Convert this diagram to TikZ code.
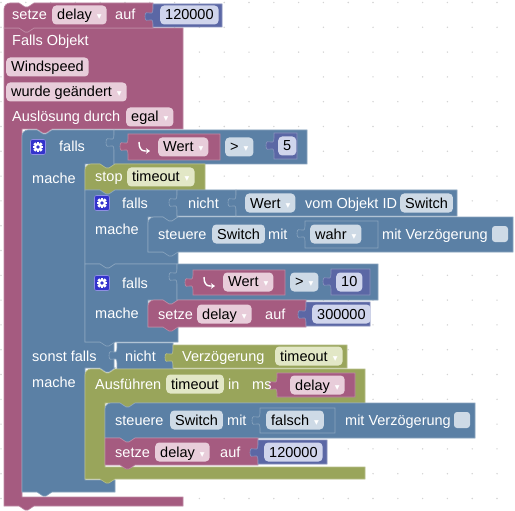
\documentclass[tikz,border=0pt]{standalone}
\usepackage{fontspec}
\setmainfont{Liberation Sans}
\newfontfamily\dvfont{DejaVu Sans}
\usetikzlibrary{arrows.meta}
\definecolor{purp}{RGB}{165,91,128}
\definecolor{purpF}{RGB}{232,205,218}
\definecolor{bl}{RGB}{91,128,165}
\definecolor{blF}{RGB}{206,218,230}
\definecolor{olv}{RGB}{153,165,91}
\definecolor{olvF}{RGB}{226,231,198}
\definecolor{nb}{RGB}{91,103,165}
\definecolor{nbF}{RGB}{208,213,236}
\definecolor{gearb}{RGB}{51,51,204}
\definecolor{dotc}{RGB}{212,212,212}
\newcommand{\dd}{\hspace{5pt}{\dvfont\fontsize{9.5}{9.5}\selectfont\color{white}▾}}
\tikzset{
  lbl/.style={text=white, anchor=base west, inner sep=0pt},
  fld/.style={rounded corners=4pt, fill=#1, text=black, inner xsep=5pt, inner ysep=2.5pt,
    text height=12pt, text depth=2pt, anchor=west},
  blk/.style={fill=#1, draw=#1!72!white, line width=0.6pt}
}
\newcommand{\lbl}[4]{\node[lbl] (#1) at (#2,{#3+5}) {#4};}
\newcommand{\fld}[5]{\node[fld=#2] (#1) at (#3,#4) {#5};}
\newcommand{\chk}[4]{\node[rounded corners=3pt, fill=#2, minimum size=16pt, inner sep=0pt] (#1) at (#3,#4) {};}
\newcommand{\vblk}[5]{\filldraw[blk=#5] (#1,#2) -- (#3,#2) -- (#3,#4) -- (#1,#4) -- (#1,{#2+20}) .. controls (#1,{#2+10}) and ({#1-8},{#2+22}) .. ({#1-8},{#2+12.5}) .. controls ({#1-8},{#2+3}) and (#1,{#2+15}) .. (#1,{#2+5}) -- cycle;}
\newcommand{\sblk}[6]{\filldraw[blk=#5] (#1,{#2+#6}) .. controls (#1,{#2+0.45*#6}) and ({#1+0.45*#6},#2) .. ({#1+#6},#2) -- ({#1+15},#2) -- ({#1+21},{#2+4}) -- ({#1+24},{#2+4}) -- ({#1+30},#2) -- (#3,#2) -- (#3,#4) -- ({#1+30},#4) -- ({#1+24},{#4+4}) -- ({#1+21},{#4+4}) -- ({#1+15},#4) -- (#1,#4) -- cycle;}
\newcommand{\gear}[2]{%
  \filldraw[fill=gearb, draw=gearb!55!white, line width=0.6pt, rounded corners=2pt] ({#1-7.5},{#2-7.5}) rectangle ({#1+7.5},{#2+7.5});
  \fill[white] (#1,#2) circle (3.9);
  \foreach \a in {0,45,90,135} {\fill[white, rotate around={\a:(#1,#2)}] ({#1-1.3},{#2-5.3}) rectangle ({#1+1.3},{#2+5.3});}
  \fill[gearb] (#1,#2) circle (1.8);}
\newcommand{\hook}[2]{\draw[white, line width=1.4pt, -{Stealth[length=4pt,width=5.5pt]}] (#1,{#2-5}) .. controls (#1,{#2+1}) and ({#1+2},{#2+4}) .. ({#1+6},{#2+4}) -- ({#1+11},{#2+4});}
\begin{document}
\begin{tikzpicture}[x=1pt,y=-1pt,font=\fontsize{14.5}{17}\selectfont]
\useasboundingbox (0,0) rectangle (515,511);
\fill[white] (0,0) rectangle (515,511);
\foreach \i in {0,...,20} {\foreach \j in {0,...,20} {\fill[dotc] ({497-24.8*\i},{2.5+24.8*\j}) circle (0.8);}}
% trigger block
\filldraw[blk=purp] (4,28) -- (19,28) -- (25,32) -- (28,32) -- (34,28) -- (183,28) -- (183,129) -- (52,129) -- (46,133) -- (43,133) -- (37,129) -- (22,129) -- (22,497) -- (183,497) -- (183,506) -- (34,506) -- (28,510) -- (25,510) -- (19,506) -- (4,506) -- cycle;
% top setze
\sblk{4}{3}{153}{28}{purp}{6}
\vblk{153}{4}{222}{27}{nb}
% outer falls
\filldraw[blk=bl] (22,136) .. controls (22,132.7) and (24.7,130) .. (28,130) -- (37,130) -- (43,134) -- (46,134) -- (52,130) -- (114,130) -- (114,164) -- (115,164) -- (109,168) -- (106,168) -- (100,164) -- (85,164) -- (85,342) -- (114,342) -- (114,368) -- (115,368) -- (109,372) -- (106,372) -- (100,368) -- (85,368) -- (85,480) -- (115,480) -- (115,492) -- (52,492) -- (46,496) -- (43,496) -- (37,492) -- (22,492) -- cycle;
\vblk{114}{130}{307}{164}{bl}
\vblk{128}{134}{220}{160}{purp}
\vblk{274}{133}{297}{159}{nb}
% stop
\sblk{85}{164}{205}{190}{olv}{6}
% falls 2
\filldraw[blk=bl] (85,190) -- (100,190) -- (106,194) -- (109,194) -- (115,190) -- (177,190) -- (177,217) -- (178,217) -- (172,221) -- (169,221) -- (163,217) -- (148,217) -- (148,252) -- (178,252) -- (178,264) -- (115,264) -- (109,268) -- (106,268) -- (100,264) -- (85,264) -- cycle;
\vblk{177}{190}{236}{216}{bl}
\vblk{236}{190}{457}{216}{bl}
\sblk{148}{217}{513}{252}{bl}{6}
\vblk{305}{221}{378}{248}{bl}
% falls 3
\filldraw[blk=bl] (85,264) -- (100,264) -- (106,268) -- (109,268) -- (115,264) -- (177,264) -- (177,300) -- (178,300) -- (172,304) -- (169,304) -- (163,300) -- (148,300) -- (148,327) -- (178,327) -- (178,342) -- (115,342) -- (109,346) -- (106,346) -- (100,342) -- (85,342) -- cycle;
\vblk{177}{264}{378}{300}{bl}
\vblk{193}{270}{285}{295}{purp}
\vblk{331}{269}{370}{295}{nb}
\sblk{148}{300}{306}{327}{purp}{6}
\vblk{306}{302}{370}{326}{nb}
% sonst falls
\vblk{117}{343}{173}{369}{bl}
\vblk{173}{345}{347}{368}{olv}
% Ausfuehren
\filldraw[blk=olv] (85,375) .. controls (85,371.7) and (87.7,369) .. (91,369) -- (100,369) -- (106,373) -- (109,373) -- (115,369) -- (365,369) -- (365,403) -- (135,403) -- (129,407) -- (126,407) -- (120,403) -- (105,403) -- (105,467) -- (365,467) -- (365,479) -- (115,479) -- (109,483) -- (106,483) -- (100,479) -- (85,479) -- cycle;
\vblk{277}{373}{355}{397}{purp}
\sblk{105}{403}{475}{438}{bl}{6}
\vblk{260}{408}{335}{433}{bl}
\sblk{105}{438}{258}{465}{purp}{0}
\vblk{258}{440}{327}{464}{nb}
% icons
\gear{38}{147}
\gear{102}{203}
\gear{102}{283}
\hook{139}{147}
\hook{204}{282}
% labels
\lbl{a1}{12}{15}{setze}
\fld{f1}{purpF}{52}{15}{delay\dd}
\lbl{a2}{115}{15}{auf}
\fld{f2}{nbF}{160}{15}{120000}
\lbl{a3}{12}{41}{Falls Objekt}
\fld{f3}{purpF}{6}{67}{Windspeed}
\fld{f4}{purpF}{6}{92}{wurde geändert\dd}
\lbl{a4}{12}{117}{Auslösung durch}
\fld{f5}{purpF}{126}{117}{egal\dd}
\lbl{a5}{59}{147}{falls}
\fld{f6}{purpF}{158}{147}{Wert\dd}
\fld{f7}{blF}{225}{147}{>\dd}
\fld{f8}{nbF}{278}{146}{5}
\lbl{a6}{32}{178}{mache}
\lbl{a7}{95}{177}{stop}
\fld{f9}{olvF}{127}{177}{timeout\dd}
\lbl{a8}{122}{203}{falls}
\lbl{a9}{188}{203}{nicht}
\fld{f10}{blF}{245}{203}{Wert\dd}
\lbl{a10}{305}{203}{vom Objekt ID}
\fld{f11}{blF}{400}{203}{Switch}
\lbl{a11}{95}{229}{mache}
\lbl{a12}{158}{234}{steuere}
\fld{f12}{blF}{212}{234}{Switch}
\lbl{a13}{268}{234}{mit}
\fld{f13}{blF}{310}{234}{wahr\dd}
\lbl{a14}{382}{234}{mit Verzögerung}
\chk{c1}{blF}{500}{234}
\lbl{a15}{122}{283}{falls}
\fld{f14}{purpF}{223}{282}{Wert\dd}
\fld{f15}{blF}{290}{282}{>\dd}
\fld{f16}{nbF}{336}{282}{10}
\lbl{a16}{95}{313}{mache}
\lbl{a17}{158}{314}{setze}
\fld{f17}{purpF}{197}{314}{delay\dd}
\lbl{a18}{265}{314}{auf}
\fld{f18}{nbF}{312}{314}{300000}
\lbl{a19}{32}{356}{sonst falls}
\lbl{a20}{125}{356}{nicht}
\lbl{a21}{182}{356}{Verzögerung}
\fld{f19}{olvF}{275}{356}{timeout\dd}
\lbl{a22}{32}{382}{mache}
\lbl{a23}{95}{384}{Ausführen}
\fld{f20}{olvF}{166}{384}{timeout}
\lbl{a24}{228}{384}{in}
\lbl{a25}{252}{384}{ms}
\fld{f21}{purpF}{290}{385}{delay\dd}
\lbl{a26}{115}{420}{steuere}
\fld{f22}{blF}{170}{420}{Switch}
\lbl{a27}{227}{420}{mit}
\fld{f23}{blF}{266}{420}{falsch\dd}
\lbl{a28}{345}{420}{mit Verzögerung}
\chk{c2}{blF}{462}{420}
\lbl{a29}{115}{452}{setze}
\fld{f24}{purpF}{155}{452}{delay\dd}
\lbl{a30}{220}{452}{auf}
\fld{f25}{nbF}{264}{452}{120000}
\end{tikzpicture}
\end{document}
